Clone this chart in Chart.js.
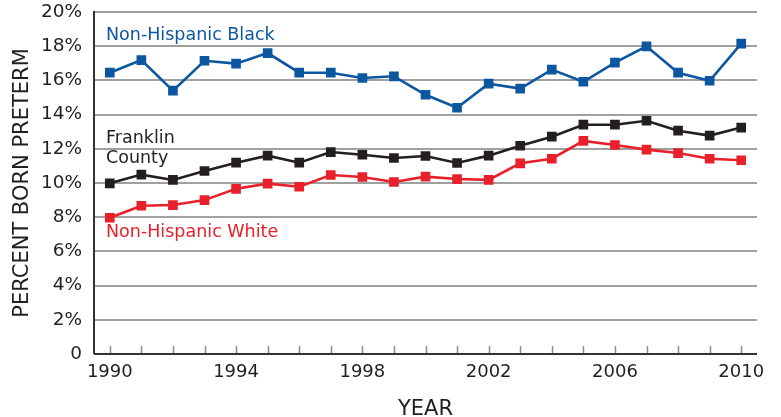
<!DOCTYPE html>
<html><head><meta charset="utf-8">
<script src="https://cdn.jsdelivr.net/npm/chart.js@4"></script>
<style>html,body{margin:0;padding:0;background:#fff}#wrap{width:781px;height:417px;position:relative}</style>
</head><body><div id="wrap"><canvas id="c"></canvas></div>
<script>
const years = ["1990","1991","1992","1993","1994","1995","1996","1997","1998","1999","2000","2001","2002","2003","2004","2005","2006","2007","2008","2009","2010"];
const tickYears = ["1990","1994","1998","2002","2006","2010"];
const black = [16.45,17.19,15.40,17.15,16.98,17.60,16.45,16.45,16.14,16.24,15.16,14.40,15.81,15.52,16.63,15.92,17.04,17.99,16.45,15.98,18.15];
const franklin = [9.98,10.49,10.18,10.70,11.19,11.60,11.19,11.81,11.65,11.46,11.58,11.17,11.60,12.18,12.71,13.41,13.41,13.64,13.06,12.77,13.24];
const white = [7.97,8.67,8.71,9.00,9.66,9.96,9.78,10.47,10.35,10.06,10.37,10.23,10.18,11.15,11.42,12.46,12.22,11.95,11.75,11.42,11.33];
const seriesLabels = [
  {lines:["Non-Hispanic Black"], value:18.6, color:"#0d57a0"},
  {lines:["Franklin","County"], value:12.63, color:"#231f20"},
  {lines:["Non-Hispanic White"], value:7.08, color:"#e8202a"}
];
const FONT = "'DejaVu Sans', sans-serif";

const innerTicks = {
  id:'innerTicks',
  afterDatasetsDraw(chart){
    const x = chart.scales.x, y = chart.scales.y, ctx = chart.ctx;
    ctx.save();
    ctx.strokeStyle = '#8a8a8a'; ctx.lineWidth = 1.5;
    years.forEach((yr,i)=>{
      const px = Math.round(x.getPixelForValue(i))+0.5;
      ctx.beginPath(); ctx.moveTo(px, y.bottom); ctx.lineTo(px, y.bottom-8); ctx.stroke();
    });
    ctx.strokeStyle = '#333'; ctx.lineWidth = 2;
    ctx.beginPath(); ctx.moveTo(x.left, y.bottom); ctx.lineTo(x.right, y.bottom); ctx.stroke();
    ctx.beginPath(); ctx.moveTo(x.left, y.top-1); ctx.lineTo(x.left, y.bottom); ctx.stroke();
    ctx.font = "17.5px " + FONT; ctx.textBaseline = 'middle'; ctx.textAlign='left';
    seriesLabels.forEach(s=>{
      ctx.fillStyle = s.color;
      s.lines.forEach((ln,k)=>{
        ctx.fillText(ln, x.left+12, y.getPixelForValue(s.value)+k*20);
      });
    });
    ctx.restore();
  }
};

const mk = (data,color)=>({data, borderColor:color, backgroundColor:color, borderWidth:2.6,
  pointStyle:'rect', pointRadius:5, pointHoverRadius:5, tension:0});

new Chart(document.getElementById('c'), {
  type:'line',
  data:{labels:years, datasets:[mk(black,'#0d57a0'), mk(franklin,'#231f20'), mk(white,'#e8202a')]},
  options:{
    responsive:true, maintainAspectRatio:false, animation:false,
    layout:{padding:{top:12,right:24,left:0,bottom:0}},
    plugins:{legend:{display:false}, tooltip:{enabled:false}},
    scales:{
      x:{
        type:'category', offset:true,
        grid:{display:false, drawTicks:false},
        border:{display:false},
        ticks:{autoSkip:false, maxRotation:0, padding:8, color:'#231f20',
          font:{family:FONT, size:18},
          callback:function(v){const l=this.getLabelForValue(v); return tickYears.includes(l)?l:'';}},
        title:{display:true, text:'YEAR', color:'#231f20', font:{family:FONT,size:21,lineHeight:1}, padding:{top:0,bottom:-3}},
        afterFit(s){s.height=63;}
      },
      y:{
        min:0, max:20,
        ticks:{stepSize:2, padding:0, color:'#231f20', font:{family:FONT,size:18.5},
          callback:v=> v===0 ? '0' : v+'%'},
        grid:{color:'#a0a0a0', lineWidth:2, drawTicks:true, tickLength:12, tickColor:'rgba(0,0,0,0)'},
        border:{display:false},
        title:{display:true, text:'PERCENT BORN PRETERM', color:'#231f20', font:{family:FONT,size:21}, padding:{top:10,bottom:0}},
        afterFit(s){s.width=94;}
      }
    }
  },
  plugins:[innerTicks]
});
</script></body></html>
